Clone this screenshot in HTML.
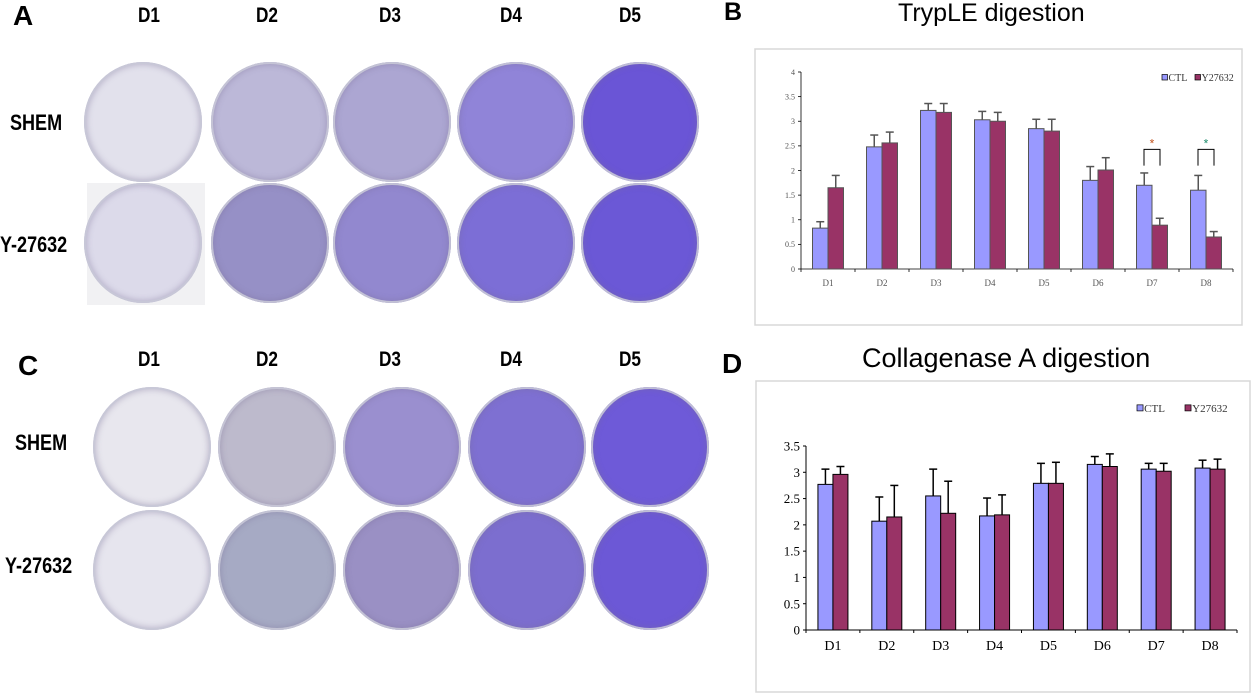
<!DOCTYPE html>
<html><head><meta charset="utf-8">
<style>
body{margin:0;width:1251px;height:693px;background:#fff;position:relative;overflow:hidden;font-family:"Liberation Sans",sans-serif}
.lbl{position:absolute;font-weight:bold;color:#000;transform-origin:0 0}
.cond{transform:scaleX(0.82)}
.dish{position:absolute;border-radius:50%;box-shadow:inset 0 0 0 2px rgba(200,200,215,.9),inset 0 0 6px 3px rgba(120,110,150,.35)}
svg{position:absolute;left:0;top:0}
</style></head><body>
<div class="lbl" style="left:13px;top:0px;font-size:28px">A</div>
<div class="lbl" style="left:18px;top:350px;font-size:28px">C</div>
<div class="lbl" style="left:724px;top:-2px;font-size:25px">B</div>
<div class="lbl" style="left:722px;top:348px;font-size:28px">D</div>
<div style="position:absolute;left:898px;top:-1px;font-size:25px">TrypLE digestion</div>
<div style="position:absolute;left:862px;top:343px;font-size:27px">Collagenase A digestion</div>
<div style="position:absolute;left:87px;top:183px;width:118px;height:122px;background:#f1f1f3"></div>
<div id="dishes"></div>
<svg id="charts" width="1251" height="693"></svg>
<script>
const dayLabels=["D1","D2","D3","D4","D5"];
const dishColorsA=[["#e2e1ec","#bcb8d8","#aca6d2","#9084d8","#6a55d6"],["#dcdaea","#9690c6","#9288cf","#7c6ed6","#6b58d6"]];
const dishColorsC=[["#e8e7ee","#bdbacc","#9a8fcf","#7e70d2","#6e5ad8"],["#e6e5ee","#a6aac4","#9a90c4","#7c6ecf","#6c58d6"]];
const D=document.getElementById('dishes');
function addLabel(txt,x,y,fs,name){const e=document.createElement('div');e.className='lbl cond';e.textContent=txt;e.style.left=x+'px';e.style.top=y+'px';e.style.fontSize=fs+'px';


D.appendChild(e);}
const colA=[143,270,392,516,640],rowA=[122,243];
const colC=[152,277,402,527,650],rowC=[447,570];
const hdrA=[150,268,391,512,631];
dayLabels.forEach((d,i)=>{addLabel(d,hdrA[i]-12,4,21,'panel-a-'+d.toLowerCase()+'-header');addLabel(d,hdrA[i]-12,348,21,'panel-c-'+d.toLowerCase()+'-header');});
addLabel("SHEM",10,110,22,'panel-a-shem-label');addLabel("Y-27632",0,232,22,'panel-a-y27632-label');
addLabel("SHEM",15,430,22,'panel-c-shem-label');addLabel("Y-27632",5,553,22,'panel-c-y27632-label');
function dish(cx,cy,c,name){const e=document.createElement('div');e.className='dish';
e.style.left=(cx-59)+'px';e.style.top=(cy-60)+'px';e.style.width='118px';e.style.height='120px';
e.style.background='radial-gradient(ellipse at 50% 45%,'+c+' 0%,'+c+' 70%,#c9c6dc 96%,#eeeef4 100%)';


D.appendChild(e);}
for(let r=0;r<2;r++)for(let i=0;i<5;i++){dish(colA[i],rowA[r],dishColorsA[r][i],'dish-a-r'+(r+1)+'-d'+(i+1));dish(colC[i],rowC[r],dishColorsC[r][i],'dish-c-r'+(r+1)+'-d'+(i+1));}

const categories=["D1","D2","D3","D4","D5","D6","D7","D8"];
const bCTL=[0.83,2.48,3.22,3.03,2.85,1.80,1.70,1.60];
const bCTLerr=[0.13,0.24,0.14,0.17,0.19,0.28,0.25,0.30];
const bY=[1.65,2.56,3.18,3.00,2.80,2.01,0.89,0.65];
const bYerr=[0.25,0.22,0.18,0.18,0.24,0.25,0.14,0.11];
const bTicks=[0,0.5,1,1.5,2,2.5,3,3.5,4];
const dCTL=[2.77,2.07,2.55,2.17,2.79,3.15,3.06,3.08];
const dCTLerr=[0.29,0.46,0.51,0.34,0.38,0.15,0.11,0.15];
const dY=[2.96,2.15,2.22,2.19,2.79,3.11,3.02,3.06];
const dYerr=[0.15,0.60,0.61,0.38,0.40,0.24,0.15,0.19];
const dTicks=[0,0.5,1,1.5,2,2.5,3,3.5];

const S=document.getElementById('charts');const NS='http://www.w3.org/2000/svg';
function el(t,a,name){const e=document.createElementNS(NS,t);for(const k in a)e.setAttribute(k,a[k]);


S.appendChild(e);return e;}
function chart(o){
 el('rect',{x:o.fx,y:o.fy,width:o.fw,height:o.fh,fill:'#fff',stroke:'#d8d8d8','stroke-width':1.5},o.id+'-frame');
 const y=v=>o.y0-(v/o.ymax)*(o.y0-o.ytop);
 const step=(o.xr-o.xl)/categories.length;
 const x=i=>o.xl+step*(i+0.5);
 el('line',{x1:o.xl,y1:o.y0,x2:o.xr,y2:o.y0,stroke:'#000','stroke-width':o.aw},o.id+'-x-axis');
 el('line',{x1:o.xl,y1:o.y0,x2:o.xl,y2:y(o.ticks[o.ticks.length-1]),stroke:'#000','stroke-width':o.aw},o.id+'-y-axis');
 o.ticks.forEach(t=>{el('line',{x1:o.xl-3,y1:y(t),x2:o.xl,y2:y(t),stroke:'#000','stroke-width':o.aw},o.id+'-y-tick');
  const tx=el('text',{x:o.xl-6,y:y(t)+o.tfs*0.35,'text-anchor':'end','font-size':o.tfs,'font-family':'Liberation Serif,serif',fill:o.tc},o.id+'-y-tick-label');tx.textContent=t;});
 for(let i=0;i<=categories.length;i++)el('line',{x1:o.xl+step*i,y1:o.y0,x2:o.xl+step*i,y2:o.y0+3,stroke:'#000','stroke-width':o.aw},o.id+'-x-tick');
 categories.forEach((c,i)=>{
  const tx=el('text',{x:x(i),y:o.y0+o.xoff,'text-anchor':'middle','font-size':o.xfs,'font-family':'Liberation Serif,serif',fill:o.tc},o.id+'-x-label');tx.textContent=c;
  [[o.a,o.ae,'#9999ff',-1],[o.b,o.be,'#993366',0]].forEach((s,k)=>{
   const bx=x(i)+s[3]*o.bw, v=s[0][i];
   el('line',{x1:bx+o.bw/2,y1:y(v),x2:bx+o.bw/2,y2:y(v+s[1][i]),stroke:o.ec,'stroke-width':1.5},o.id+'-error-bar');
   el('line',{x1:bx+o.bw/2-4,y1:y(v+s[1][i]),x2:bx+o.bw/2+4,y2:y(v+s[1][i]),stroke:o.ec,'stroke-width':1.5},o.id+'-error-cap');
   el('rect',{x:bx,y:y(v),width:o.bw,height:o.y0-y(v),fill:s[2],stroke:o.ec,'stroke-width':1},o.id+(k?'-y27632-bar-':'-ctl-bar-')+c.toLowerCase());
  });
 });
 return {x,y};
}
const B=chart({id:'tryple',fx:755,fy:49,fw:487,fh:276,xl:801,xr:1233,y0:269,ytop:72,ymax:4,ticks:bTicks,a:bCTL,ae:bCTLerr,b:bY,be:bYerr,bw:15.5,aw:0.8,tfs:8,xfs:9,xoff:17,tc:'#555',ec:'#555'});
const Dc=chart({id:'collagenase',fx:756,fy:381,fw:494,fh:311,xl:806,xr:1237,y0:630,ytop:446,ymax:3.5,ticks:dTicks,a:dCTL,ae:dCTLerr,b:dY,be:dYerr,bw:15,aw:1,tfs:13,xfs:14,xoff:20,tc:'#000',ec:'#000'});
[6,7].forEach((i,k)=>{const xa=B.x(i)-8,xb=B.x(i)+8,top=B.y(2.43),bot=B.y(2.1);
 el('path',{d:`M${xa},${bot}V${top}H${xb}V${bot}`,fill:'none',stroke:'#000','stroke-width':1},'significance-bracket');
 const t=el('text',{x:B.x(i),y:top-2,'text-anchor':'middle','font-size':12,fill:k?'#1a8a6a':'#c0501a'},'significance-star');t.textContent='*';});
function legend(x,y,fs,gap,name){[['CTL','#9999ff'],['Y27632','#993366']].forEach((l,k)=>{const lx=x+k*gap;
 el('rect',{x:lx,y:y-fs*0.65,width:fs*0.55,height:fs*0.55,fill:l[1],stroke:'#000','stroke-width':0.7},name+'-swatch');
 const t=el('text',{x:lx+fs*0.65,y:y,'font-size':fs,'font-family':'Liberation Serif,serif',fill:'#333'},name+'-entry');t.textContent=l[0];});}
legend(1162,81,10,33,'tryple-legend');
legend(1137,412,11,48,'collagenase-legend');
</script>
</body></html>
